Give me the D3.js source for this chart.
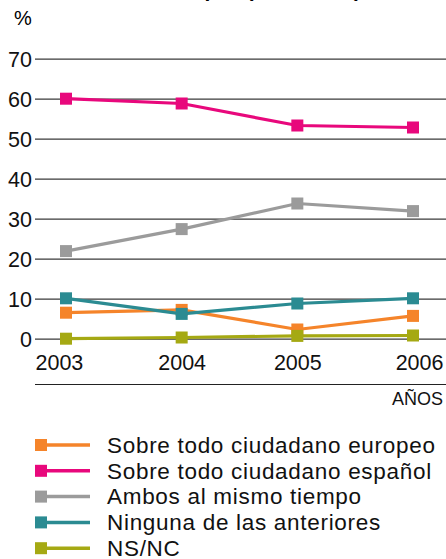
<!DOCTYPE html>
<html>
<head>
<meta charset="utf-8">
<script src="https://cdn.jsdelivr.net/npm/d3@7"></script>
<style>
  body { margin: 0; background: #fff; }
  svg { display: block; font-family: "Liberation Sans", Arial, sans-serif; }
</style>
</head>
<body>
<svg id="chart" width="446" height="559"></svg>
<script>
// data
var years = [2003, 2004, 2005, 2006];
var europeo = [6.5, 7.2, 2.3, 5.7];
var espanol = [60, 58.8, 53.3, 52.8];
var ambos = [21.9, 27.4, 33.8, 31.9];
var ninguna = [10.1, 6.2, 8.8, 10.1];
var nsnc = [0, 0.3, 0.7, 0.8];
var yTicks = [0, 10, 20, 30, 40, 50, 60, 70];

var series = [
    {name: "Sobre todo ciudadano europeo", values: europeo, color: "#f5842a"},
    {name: "Sobre todo ciudadano español", values: espanol, color: "#e8087c"},
    {name: "Ambos al mismo tiempo", values: ambos, color: "#9b9b9b"},
    {name: "Ninguna de las anteriores", values: ninguna, color: "#2b8b92"},
    {name: "NS/NC", values: nsnc, color: "#a5a913"}
];
// draw order in the picture (teal over orange, olive on top)
var drawOrder = [2, 1, 0, 3, 4];

var svg = d3.select("#chart");

var x = d3.scaleLinear().domain([2003, 2006]).range([66, 413]);
var y = d3.scaleLinear().domain([0, 70]).range([338.7, 58.7]);

// title, cut by the top edge (only descenders show)
svg.append("text")
    .attr("x", 361).attr("y", -3)
    .attr("text-anchor", "end")
    .attr("font-size", 21).attr("font-weight", "bold")
    .text("Identidad europea (2003-2006)");

svg.append("text")
    .attr("x", 14).attr("y", 25)
    .attr("font-size", 20)
    .text("%");

// grid + y labels
var yAxis = d3.axisLeft(y).tickValues(yTicks).tickSize(-411).tickPadding(3);
var gy = svg.append("g").attr("transform", "translate(35,0)").call(yAxis);
gy.select(".domain").remove();
gy.selectAll(".tick line").attr("stroke", "#3a3a3a").attr("stroke-width", 1.2);
gy.selectAll(".tick text")
    .attr("font-size", 21.5).attr("fill", "#111")
    .attr("font-family", "Liberation Sans, Arial, sans-serif")
    .attr("dy", "0.36em");

// x labels
var xAxis = d3.axisBottom(x).tickValues(years).tickFormat(d3.format("d")).tickSize(0).tickPadding(0);
var gx = svg.append("g").attr("transform", "translate(0,355)").call(xAxis);
gx.select(".domain").remove();
gx.selectAll(".tick text")
    .attr("font-size", 21.5).attr("fill", "#111")
    .attr("font-family", "Liberation Sans, Arial, sans-serif")
    .attr("dy", "0.71em")
    .attr("text-anchor", function(d, i) { return i == 0 ? "start" : (i == years.length - 1 ? "end" : "middle"); })
    .attr("dx", function(d, i) { return i == 0 ? -31 : (i == years.length - 1 ? 30 : 0); });

svg.append("line")
    .attr("x1", 35).attr("x2", 446)
    .attr("y1", 384.5).attr("y2", 384.5)
    .attr("stroke", "#222").attr("stroke-width", 1.2);

svg.append("text")
    .attr("x", 443).attr("y", 405)
    .attr("text-anchor", "end")
    .attr("font-size", 18).attr("fill", "#111")
    .text("AÑOS");

// lines
var line = d3.line()
    .x(function(d, i) { return x(years[i]); })
    .y(function(d) { return y(d); });

drawOrder.forEach(function(k) {
    var s = series[k];
    var g = svg.append("g");
    g.append("path")
        .attr("d", line(s.values))
        .attr("fill", "none")
        .attr("stroke", s.color)
        .attr("stroke-width", 3.2);
    g.selectAll("rect").data(s.values).enter().append("rect")
        .attr("x", function(d, i) { return x(years[i]) - 6; })
        .attr("y", function(d) { return y(d) - 6; })
        .attr("width", 12).attr("height", 12)
        .attr("fill", s.color);
});

// legend
var leg = svg.append("g").selectAll("g").data(series).enter().append("g")
    .attr("transform", function(d, i) { return "translate(0," + (445 + i * 25.8) + ")"; });
leg.append("line")
    .attr("x1", 40).attr("x2", 90)
    .attr("stroke", function(d) { return d.color; })
    .attr("stroke-width", 3.5);
leg.append("rect")
    .attr("x", 35).attr("y", -6)
    .attr("width", 12).attr("height", 12)
    .attr("fill", function(d) { return d.color; });
leg.append("text")
    .attr("x", 107).attr("y", 7.8)
    .attr("font-size", 22.5).attr("letter-spacing", 0.7).attr("fill", "#111")
    .text(function(d) { return d.name; });
</script>
</body>
</html>
